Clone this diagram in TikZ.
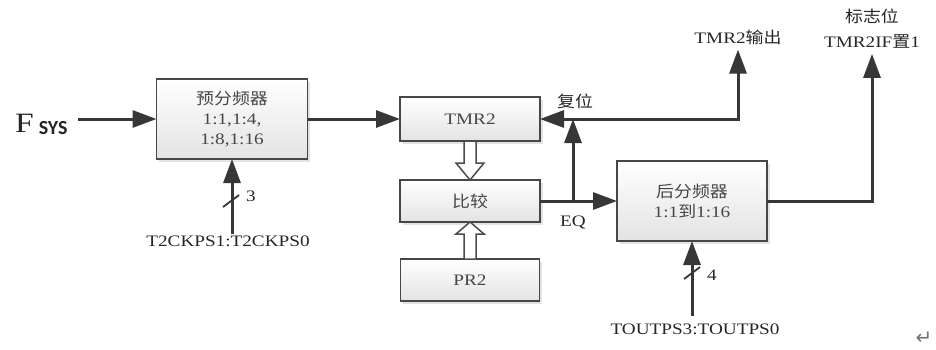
\documentclass[tikz,border=0pt]{standalone}
\usepackage{fontspec}
\setmainfont{Liberation Serif}[FakeStretch=1.2]
\newfontfamily\cjk{Noto Sans CJK SC}[FakeStretch=1.12]
\newfontfamily\subsans{Carlito}
\newfontfamily\symfont{DejaVu Sans}
\usepackage{tikz}
\usetikzlibrary{arrows.meta, calc, shadows}
\definecolor{linegray}{RGB}{55,55,55}
\definecolor{textgray}{RGB}{70,70,70}

\begin{document}
\begin{tikzpicture}[
  x=1pt, y=-1pt,
  font=\fontsize{16}{20}\selectfont,
  box/.style={rectangle, draw=black!72, line width=1.8pt, outer sep=0pt,
              top color=white, bottom color=black!11, text=textgray,
              drop shadow={shadow xshift=2.5pt, shadow yshift=-2.5pt, fill=black!22},
              align=center, inner sep=2pt},
  lbl/.style={text=black!85, align=center, inner sep=1pt},
  arr/.style={-{Triangle[length=24pt, width=17pt]}, line width=3pt, draw=linegray},
  wire/.style={line width=3pt, draw=linegray},
  hollow/.style={draw=black!70, line width=1.5pt, fill=white, line join=miter}
]
\useasboundingbox (0,0) rectangle (936,349);

\node[box, minimum width=151pt, minimum height=80pt] (pre) at (232,119)
  {{\cjk 预分频器}\\1:1,1:4,\\1:8,1:16};
\node[box, minimum width=140pt, minimum height=44pt] (tmr) at (470,119) {TMR2};
\node[box, minimum width=140pt, minimum height=42pt] (cmp) at (470,201) {\cjk 比较};
\node[box, minimum width=139pt, minimum height=42pt] (pr) at (470,280) {PR2};
\node[box, minimum width=150pt, minimum height=80pt] (post) at (692,201)
  {{\cjk 后分频器}\\1:1{\cjk 到}1:16};

\node[lbl, anchor=base west] (fsys) at (14,132)
  {\fontsize{28}{28}\selectfont F\hspace{5pt}{\subsans\bfseries\fontsize{20}{20}\selectfont\raisebox{-2pt}{SYS}}};
\node[lbl] (t2ck) at (228,241) {T2CKPS1:T2CKPS0};
\node[lbl] (toutps) at (695,329) {TOUTPS3:TOUTPS0};
\node[lbl] (tmrout) at (738,37) {TMR2{\cjk 输出}};
\node[lbl, font=\fontsize{16}{25}\selectfont] (flag) at (872,29) {{\cjk 标志位}\\TMR2IF{\cjk 置}1};
\node[lbl] (rstlbl) at (575,101) {\cjk 复位};
\node[lbl] (eqlbl) at (573,222) {EQ};
\node[lbl, text=black!55] (ret) at (924,338) {\symfont\fontsize{20}{20}\selectfont ↵};
\node[lbl] (n3) at (251,196) {3};
\node[lbl] (n4) at (712,275) {4};

\coordinate (fin) at (78,119);
\coordinate (eq) at (573,201);
\coordinate (rst) at (573,119);

\draw[arr] (fin) -- (pre.west);
\draw[arr] (pre.east) -- (tmr.west);
\draw[wire] (cmp.east) -- (eq);
\draw[arr] (eq) -- (post.west);
\draw[arr] (eq) -- (rst);
\draw[arr] (rst) -- (tmr.east);
\draw[arr, shorten >=4pt] (rst) -| (tmrout.south);
\draw[arr, shorten >=4pt] (post.east) -| (flag.south);
\draw[arr] (pre.south |- t2ck.north) -- (pre.south);
\draw[arr] (post.south |- toutps.north) ++(0,-6) -- (post.south);

% bus width marks
\draw[line width=1.8pt, draw=linegray] (223,207) -- (239,195);
\draw[line width=1.8pt, draw=linegray] (684,279) -- (700,267);

% hollow transfer arrows
\draw[hollow] ($(tmr.south)+(-6,0)$) -- ++(0,22) -- ++(-8,0) -- (cmp.north)
  -- ++(14,-17) -- ++(-8,0) -- ++(0,-22) -- cycle;
\draw[hollow] ($(pr.north)+(-6,0)$) -- ++(0,-25) -- ++(-8,0) -- (cmp.south)
  -- ++(14,12) -- ++(-8,0) -- ++(0,25) -- cycle;
\end{tikzpicture}
\end{document}
